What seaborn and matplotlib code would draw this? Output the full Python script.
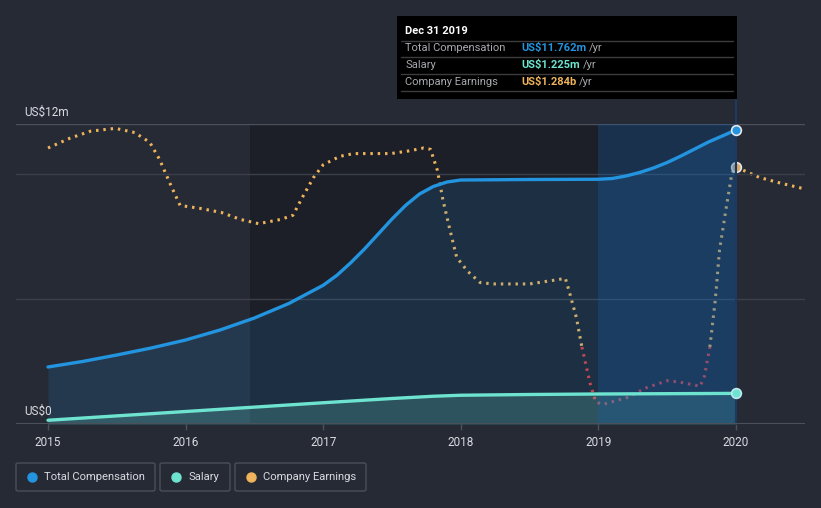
import numpy as np
import pandas as pd
import matplotlib
matplotlib.use("Agg")
import matplotlib.pyplot as plt
from matplotlib.patches import FancyBboxPatch, Rectangle
from matplotlib.lines import Line2D
import seaborn as sns

# ---------------- data ----------------
comp_years = [2015.0, 2015.25, 2015.5, 2015.75, 2016.0, 2016.25, 2016.5, 2016.75,
              2017.0, 2017.1, 2017.2, 2017.3, 2017.4, 2017.5, 2017.6, 2017.7,
              2017.8, 2017.9, 2018.0, 2018.5, 2019.0, 2019.1, 2019.2, 2019.3,
              2019.4, 2019.5, 2019.6, 2019.7, 2019.8, 2019.9, 2020.0]
comp_vals = [2.28, 2.5, 2.76, 3.04, 3.36, 3.76, 4.24, 4.82,
             5.55, 5.95, 6.45, 7.0, 7.6, 8.2, 8.75, 9.2,
             9.5, 9.68, 9.76, 9.78, 9.79, 9.82, 9.92, 10.06,
             10.24, 10.46, 10.72, 11.0, 11.28, 11.52, 11.762]

salary_years = [2015.0, 2016.0, 2017.0, 2017.5, 2017.8, 2018.0, 2018.5, 2019.0, 2020.0]
salary_vals = [0.15, 0.5, 0.85, 1.02, 1.11, 1.15, 1.18, 1.2, 1.225]

earn_years = [2015.00, 2015.16, 2015.31, 2015.49, 2015.63, 2015.74, 2015.81, 2015.89,
              2015.96, 2016.10, 2016.26, 2016.40, 2016.53, 2016.69, 2016.78, 2016.85,
              2016.93, 2017.00, 2017.12, 2017.22, 2017.49, 2017.63, 2017.73, 2017.78,
              2017.83, 2017.87, 2017.92, 2017.97, 2018.05, 2018.14, 2018.23, 2018.50,
              2018.70, 2018.76, 2018.79, 2018.84, 2018.88, 2018.94, 2018.98, 2019.03,
              2019.21, 2019.35, 2019.50, 2019.59, 2019.74, 2019.77, 2019.81, 2019.85,
              2019.88, 2019.93, 2019.97, 2020.00, 2020.17, 2020.32, 2020.49]
earn_vals = [1.42, 1.49, 1.54, 1.56, 1.53, 1.46, 1.34, 1.16,
             1.01, 0.99, 0.96, 0.91, 0.88, 0.91, 0.94, 1.07,
             1.21, 1.30, 1.36, 1.38, 1.38, 1.40, 1.42, 1.41,
             1.26, 1.05, 0.84, 0.64, 0.54, 0.46, 0.45, 0.45,
             0.48, 0.49, 0.39, 0.21, 0.0, -0.26, -0.39, -0.41,
             -0.36, -0.29, -0.24, -0.25, -0.28, -0.21, 0.0, 0.34,
             0.69, 1.00, 1.24, 1.284, 1.21, 1.17, 1.13]

year_ticks = [2015, 2016, 2017, 2018, 2019, 2020]
tick_labels = ["2015", "2016", "2017", "2018", "2019", "2020"]

legend_labels = ["Total Compensation", "Salary", "Company Earnings"]
tooltip_title = "Dec 31 2019"
tooltip_rows = [("Total Compensation", "US$11.762m"), ("Salary", "US$1.225m"),
                ("Company Earnings", "US$1.284b")]

# ---------------- style ----------------
BG = "#262a35"
DARK = "#1c1f28"
BLUE = "#2394df"
TEAL = "#6ee3cf"
ORANGE = "#efb45b"
RED = "#e0393e"
GRID = "#3a3f4a"
GRID2 = "#4b505b"
TXT = "#d9dbe0"

sns.set_theme(style="dark")
plt.rcParams["font.family"] = ["Roboto", "DejaVu Sans"]

W, H = 821, 508
fig = plt.figure(figsize=(W / 100, H / 100), dpi=100, facecolor=BG)

def fx(px):
    return px / W

def fy(py):
    return 1 - py / H

ax_left, ax_right, ax_top, ax_bot = 16, 805, 124, 424
ax2 = fig.add_axes([fx(ax_left), fy(ax_bot), fx(ax_right - ax_left), (ax_bot - ax_top) / H])
ax = fig.add_axes(ax2.get_position(), sharex=ax2)
ax2.set_zorder(1)
ax.set_zorder(2)
ax.patch.set_visible(False)
ax2.patch.set_facecolor(BG)

x0 = 2015 + (ax_left - 48) / 137.6
x1 = 2015 + (ax_right - 48) / 137.6
ax.set_xlim(x0, x1)
ax.set_ylim(0, 12)
ax2.set_ylim(-0.549, 1.591)

# background shading (bottom axes)
ax2.axvspan(2016.47, 2020, color=DARK, zorder=0, lw=0)

# earnings (bottom axes): split into positive / negative runs
def runs(xs, ys, keep):
    out, cur = [], []
    for x, y in zip(xs, ys):
        if keep(y):
            cur.append((x, y))
        else:
            if len(cur) > 1:
                out.append(cur)
            cur = []
    if len(cur) > 1:
        out.append(cur)
    return out

dot = (0, (0.8, 1.6))
for seg in runs(earn_years, earn_vals, lambda v: v >= 0):
    sx, sy = zip(*seg)
    sns.lineplot(x=list(sx), y=list(sy), ax=ax2, color=ORANGE, lw=2.2, linestyle=dot, zorder=3)
for seg in runs(earn_years, earn_vals, lambda v: v <= 0):
    sx, sy = zip(*seg)
    sns.lineplot(x=list(sx), y=list(sy), ax=ax2, color=RED, lw=2.2, linestyle=dot, zorder=3)
ax2.plot([earn_years[51]], [earn_vals[51]], "o", ms=7, mfc="#d9a86a", mec="#e8e8e8", mew=1.2, zorder=4)

# gridlines
for v, c in [(5, GRID), (10, GRID), (12, GRID2)]:
    ax.axhline(v, color=c, lw=1, zorder=1)

# fills
ax.fill_between(comp_years, comp_vals, 0, color=BLUE, alpha=0.15, lw=0, zorder=2)
ax.fill_between(salary_years, salary_vals, 0, color=TEAL, alpha=0.2, lw=0, zorder=2)

# highlight of hovered year
ax.axvspan(2019, 2020, color="#1560b0", alpha=0.28, lw=0, zorder=2.5)
ax.axvline(2020, ymin=0, ymax=(ax_bot - 99) / (ax_bot - ax_top), color="#1d3a5e", lw=1.5,
           clip_on=False, zorder=2.6)

sns.lineplot(x=comp_years, y=comp_vals, ax=ax, color=BLUE, lw=2.4, zorder=3)
sns.lineplot(x=salary_years, y=salary_vals, ax=ax, color=TEAL, lw=2.4, zorder=3)
ax.plot([comp_years[-1]], [comp_vals[-1]], "o", ms=7, mfc=BLUE, mec="#e8e8e8", mew=1.2, zorder=5)
ax.plot([salary_years[-1]], [salary_vals[-1]], "o", ms=7, mfc=TEAL, mec="#bfe8f0", mew=1.2, zorder=5)

# axes cosmetics
for a in (ax, ax2):
    for s in a.spines.values():
        s.set_visible(False)
    a.grid(False)
    a.set_ylabel("")
    a.set_xlabel("")
ax2.set_yticks([])
ax.set_yticks([])
ax.axhline(0, color=GRID2, lw=1.5, zorder=4)
ax.set_xticks(year_ticks)
ax.set_xticklabels(tick_labels)
ax.tick_params(axis="x", colors=GRID2, labelcolor=TXT, labelsize=8.5, length=4, width=1, pad=5,
               bottom=True)
ax2.tick_params(axis="x", bottom=False, labelbottom=False)

ax.text((24 - ax_left) / (ax_right - ax_left), 12.48, "US$12m", transform=ax.get_yaxis_transform(),
        color=TXT, fontsize=8.5, va="center", ha="left")
ax.text((24 - ax_left) / (ax_right - ax_left), 0.52, "US$0", transform=ax.get_yaxis_transform(),
        color=TXT, fontsize=8.5, va="center", ha="left")

# tooltip
fig.patches.append(Rectangle((fx(397), fy(99)), fx(737 - 397), (99 - 16) / H,
                             transform=fig.transFigure, facecolor="#000000", edgecolor="none", zorder=10))
fig.text(fx(405), fy(31), tooltip_title, color="white", fontsize=8, fontweight="bold",
         va="center", ha="left", zorder=11)
row_lines = [41, 57, 74, 91]
for yl in row_lines:
    fig.add_artist(Line2D([fx(401), fx(733)], [fy(yl), fy(yl)], color="#3c3c3c", lw=1, zorder=11))
val_colors = [BLUE, TEAL, ORANGE]
row_y = [48, 65, 82]
for (lab, val), col, yy in zip(tooltip_rows, val_colors, row_y):
    fig.text(fx(405), fy(yy), lab, color="#a7a9ae", fontsize=8, va="center", ha="left", zorder=11)
    t = fig.text(fx(521), fy(yy), val, color=col, fontsize=8, fontweight="bold",
                 va="center", ha="left", zorder=11)
    fig.canvas.draw()
    bb = t.get_window_extent()
    fig.text(bb.x1 / W + fx(3), fy(yy), "/yr", color="#a7a9ae", fontsize=8, va="center",
             ha="left", zorder=11)

# legend boxes
boxes = [(16, 155), (160, 230), (235, 366)]
leg_cols = [BLUE, TEAL, ORANGE]
for (bx0, bx1), lab, col in zip(boxes, legend_labels, leg_cols):
    fig.patches.append(FancyBboxPatch((fx(bx0), fy(491)), fx(bx1 - bx0), 28 / H,
                                      boxstyle="round,pad=0,rounding_size=0.003",
                                      transform=fig.transFigure, facecolor="none",
                                      edgecolor="#4a4f5a", lw=1, zorder=10))
    fig.add_artist(Line2D([fx(bx0 + 16)], [fy(477)], marker="o", ms=6.5, color=col, lw=0, zorder=11))
    fig.text(fx(bx0 + 28), fy(477), lab, color=TXT, fontsize=8.1, va="center", ha="left", zorder=11)

fig.savefig("out.png", dpi=100, facecolor=BG)
